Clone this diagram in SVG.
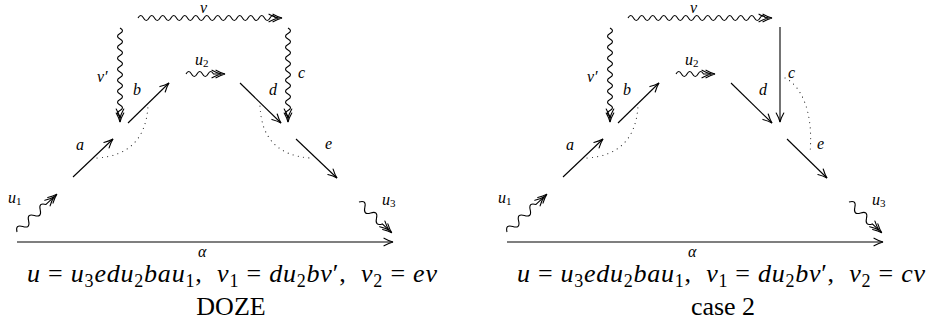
<svg xmlns="http://www.w3.org/2000/svg" width="932" height="326" viewBox="0 0 932 326">
<style>
.ln{fill:none;stroke:#000;stroke-width:1.1}
.ar{marker-end:url(#ah)}
.dar{marker-end:url(#dh)}
.dot{fill:none;stroke:#222;stroke-width:1.1;stroke-dasharray:0.1 5.2;stroke-linecap:round}
.lb{font-style:italic;font-size:16px}
.sb{font-style:normal;font-size:11px}
.eq{font-size:26px}
.i{font-style:italic}
.s{font-style:normal;font-size:18px}
.cap{font-size:26px}
</style>
<defs>
<marker id="ah" markerUnits="userSpaceOnUse" viewBox="-12 -6 14 12" markerWidth="14" markerHeight="12" refX="0" refY="0" orient="auto" overflow="visible">
<path d="M-9,-3.8 Q-4,-1 0,0 Q-4,1 -9,3.8" fill="none" stroke="#000" stroke-width="1.1" stroke-linecap="round"/>
</marker>
<marker id="dh" markerUnits="userSpaceOnUse" viewBox="-16 -6 18 12" markerWidth="18" markerHeight="12" refX="0" refY="0" orient="auto" overflow="visible">
<path d="M-9,-3.8 Q-4,-1 0,0 Q-4,1 -9,3.8 M-13,-3.8 Q-8,-1 -4,0 Q-8,1 -13,3.8" fill="none" stroke="#000" stroke-width="1.1" stroke-linecap="round"/>
</marker>
</defs>

<g id="diagram-doze" font-family="Liberation Serif, serif">
<g id="connectors-doze">
<path id="v" class="ln dar" d="M138,18 q2.75,-5 5.5,0 t5.5,0 t5.5,0 t5.5,0 t5.5,0 t5.5,0 t5.5,0 t5.5,0 t5.5,0 t5.5,0 t5.5,0 t5.5,0 t5.5,0 t5.5,0 t5.5,0 t5.5,0 t5.5,0 t5.5,0 t5.5,0 t5.5,0 t5.5,0 t5.5,0 t5.5,0 t5.5,0 t5.5,0 L282,18"/>
<path id="vprime" class="ln dar" d="M120,28 q5,2.75 0,5.5 t0,5.5 t0,5.5 t0,5.5 t0,5.5 t0,5.5 t0,5.5 t0,5.5 t0,5.5 t0,5.5 t0,5.5 t0,5.5 t0,5.5 t0,5.5 t0,5.5 t0,5.5 L120,122"/>
<path id="c" class="ln dar" d="M288,28 q5,2.75 0,5.5 t0,5.5 t0,5.5 t0,5.5 t0,5.5 t0,5.5 t0,5.5 t0,5.5 t0,5.5 t0,5.5 t0,5.5 t0,5.5 t0,5.5 t0,5.5 t0,5.5 t0,5.5 L288,122"/>
<path id="u2" class="ln dar" d="M186,74 q2.75,-5 5.5,0 t5.5,0 t5.5,0 t5.5,0 t5.5,0 L225,74"/>
<path id="u1" class="ln dar" transform="translate(17,232) rotate(-43.5)" d="M0,0 q4,-7 8,0 t8,0 t8,0 t8,0 t8,0 L55,0"/>
<path id="u3" class="ln dar" transform="translate(359,202) rotate(43.2)" d="M0,0 q4,-7 8,0 t8,0 t8,0 t8,0 L45,0"/>
<path id="a" class="ln ar" d="M73,177 L113,139"/>
<path id="b" class="ln ar" d="M128,123 L169,83"/>
<path id="d" class="ln ar" d="M240,83 L281,123"/>
<path id="e" class="ln ar" d="M296,139 L337,178"/>
<path id="alpha" class="ln ar" d="M17,242 L393,242"/>
<path id="dots-ab" class="dot" d="M97,158 Q145,155 148,106"/>
<path id="dots-de" class="dot" d="M260,106 Q262,155 311,158"/>
</g>
<g id="labels-doze">
<text class="lb" x="200" y="13">v</text>
<text class="lb" x="97" y="82">v′</text>
<text class="lb" x="133" y="95">b</text>
<text class="lb" x="298" y="78">c</text>
<text class="lb" x="269" y="95">d</text>
<text class="lb" x="76" y="150">a</text>
<text class="lb" x="325" y="149">e</text>
<text class="lb" x="195" y="65">u<tspan class="sb" dy="2">2</tspan></text>
<text class="lb" x="8" y="203">u<tspan class="sb" dy="2">1</tspan></text>
<text class="lb" x="382" y="205">u<tspan class="sb" dy="2">3</tspan></text>
<text class="lb" x="198" y="257">α</text>
</g>
<text class="eq" x="27" y="282" textLength="410" lengthAdjust="spacing" xml:space="preserve"><tspan class="i">u</tspan> = <tspan class="i">u</tspan><tspan class="s" dy="5">3</tspan><tspan class="i" dy="-5">edu</tspan><tspan class="s" dy="5">2</tspan><tspan class="i" dy="-5">bau</tspan><tspan class="s" dy="5">1</tspan><tspan dy="-5">,  </tspan><tspan class="i">v</tspan><tspan class="s" dy="5">1</tspan><tspan dy="-5"> = </tspan><tspan class="i">du</tspan><tspan class="s" dy="5">2</tspan><tspan class="i" dy="-5">bv</tspan>′,  <tspan class="i">v</tspan><tspan class="s" dy="5">2</tspan><tspan dy="-5"> = </tspan><tspan class="i">ev</tspan></text>
<text class="cap" x="231" y="315" text-anchor="middle">DOZE</text>
</g>

<g id="diagram-case2" transform="translate(490,0)" font-family="Liberation Serif, serif">
<g id="connectors-case2">
<path id="v-2" class="ln dar" d="M138,18 q2.75,-5 5.5,0 t5.5,0 t5.5,0 t5.5,0 t5.5,0 t5.5,0 t5.5,0 t5.5,0 t5.5,0 t5.5,0 t5.5,0 t5.5,0 t5.5,0 t5.5,0 t5.5,0 t5.5,0 t5.5,0 t5.5,0 t5.5,0 t5.5,0 t5.5,0 t5.5,0 t5.5,0 t5.5,0 t5.5,0 L282,18"/>
<path id="vprime-2" class="ln dar" d="M120,28 q5,2.75 0,5.5 t0,5.5 t0,5.5 t0,5.5 t0,5.5 t0,5.5 t0,5.5 t0,5.5 t0,5.5 t0,5.5 t0,5.5 t0,5.5 t0,5.5 t0,5.5 t0,5.5 t0,5.5 L120,122"/>
<path id="c-2" class="ln ar" d="M290,27 L290,122"/>
<path id="u2-2" class="ln dar" d="M186,74 q2.75,-5 5.5,0 t5.5,0 t5.5,0 t5.5,0 t5.5,0 L225,74"/>
<path id="u1-2" class="ln dar" transform="translate(17,232) rotate(-43.5)" d="M0,0 q4,-7 8,0 t8,0 t8,0 t8,0 t8,0 L55,0"/>
<path id="u3-2" class="ln dar" transform="translate(359,202) rotate(43.2)" d="M0,0 q4,-7 8,0 t8,0 t8,0 t8,0 L45,0"/>
<path id="a-2" class="ln ar" d="M73,177 L113,139"/>
<path id="b-2" class="ln ar" d="M128,123 L169,83"/>
<path id="d-2" class="ln ar" d="M241,83 L282,123"/>
<path id="e-2" class="ln ar" d="M297,139 L337,178"/>
<path id="alpha-2" class="ln ar" d="M17,242 L393,242"/>
<path id="dots-ab-2" class="dot" d="M97,158 Q145,155 148,106"/>
<path id="dots-ce-2" class="dot" d="M295,78 C310,85 324,110 320,153"/>
</g>
<g id="labels-case2">
<text class="lb" x="200" y="13">v</text>
<text class="lb" x="97" y="82">v′</text>
<text class="lb" x="133" y="95">b</text>
<text class="lb" x="298" y="78">c</text>
<text class="lb" x="269" y="95">d</text>
<text class="lb" x="76" y="150">a</text>
<text class="lb" x="327" y="149">e</text>
<text class="lb" x="195" y="65">u<tspan class="sb" dy="2">2</tspan></text>
<text class="lb" x="8" y="203">u<tspan class="sb" dy="2">1</tspan></text>
<text class="lb" x="382" y="205">u<tspan class="sb" dy="2">3</tspan></text>
<text class="lb" x="198" y="257">α</text>
</g>
<text class="eq" x="27" y="282" textLength="408" lengthAdjust="spacing" xml:space="preserve"><tspan class="i">u</tspan> = <tspan class="i">u</tspan><tspan class="s" dy="5">3</tspan><tspan class="i" dy="-5">edu</tspan><tspan class="s" dy="5">2</tspan><tspan class="i" dy="-5">bau</tspan><tspan class="s" dy="5">1</tspan><tspan dy="-5">,  </tspan><tspan class="i">v</tspan><tspan class="s" dy="5">1</tspan><tspan dy="-5"> = </tspan><tspan class="i">du</tspan><tspan class="s" dy="5">2</tspan><tspan class="i" dy="-5">bv</tspan>′,  <tspan class="i">v</tspan><tspan class="s" dy="5">2</tspan><tspan dy="-5"> = </tspan><tspan class="i">cv</tspan></text>
<text class="cap" x="233" y="315" text-anchor="middle" font-size="24">case 2</text>
</g>
</svg>
